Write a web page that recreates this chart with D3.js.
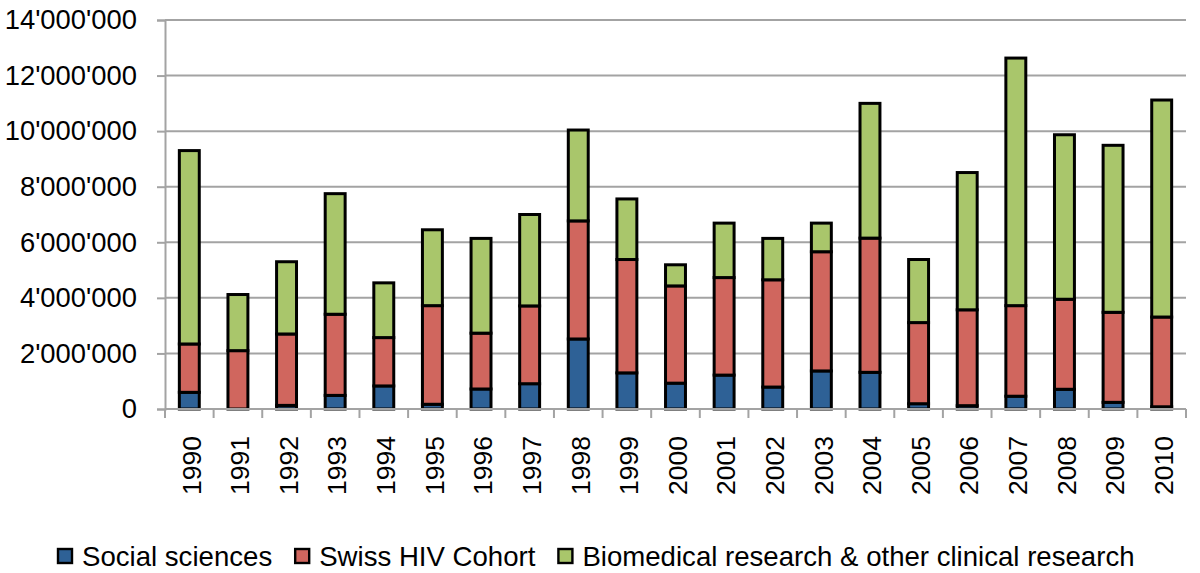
<!DOCTYPE html>
<html>
<head>
<meta charset="utf-8">
<script src="https://cdn.jsdelivr.net/npm/d3@7"></script>
<style>
  html, body { margin: 0; padding: 0; background: #fff; }
  svg { display: block; }
  text { font-family: "Liberation Sans", Arial, sans-serif; fill: #000; }
</style>
</head>
<body>
<svg id="chart" width="1200" height="573"></svg>
<script>
const years = ["1990","1991","1992","1993","1994","1995","1996","1997","1998","1999","2000","2001","2002","2003","2004","2005","2006","2007","2008","2009","2010"];
const socialSciences = [600000,0,130000,490000,830000,170000,720000,910000,2520000,1300000,930000,1220000,790000,1370000,1320000,190000,120000,460000,710000,240000,80000];
const swissHIVCohort = [1740000,2100000,2570000,2920000,1740000,3550000,2010000,2800000,4250000,4080000,3500000,3510000,3860000,4290000,4830000,2920000,3450000,3260000,3240000,3240000,3230000];
const biomedical = [6960000,2020000,2600000,4340000,1970000,2730000,3410000,3290000,3270000,2180000,760000,1960000,1490000,1030000,4850000,2270000,4940000,8910000,5920000,6010000,7810000];
const seriesNames = ["Social sciences","Swiss HIV Cohort","Biomedical research & other clinical research"];
const seriesColors = ["#2e6196","#d0665e","#a9c66b"];
const yTicks = [0,2000000,4000000,6000000,8000000,10000000,12000000,14000000];

(function () {
const rows = years.map((yr, i) => ({year: yr, s0: socialSciences[i], s1: swissHIVCohort[i], s2: biomedical[i]}));
const stacked = d3.stack().keys(["s0","s1","s2"])(rows);

const svg = d3.select("#chart");
const mLeft = 165, mRight = 1186, mTop = 20, mBottom = 409;

const x = d3.scaleBand().domain(years).range([mLeft, mRight]).paddingInner(0.59).paddingOuter(0.295);
const y = d3.scaleLinear().domain([0, 14000000]).range([mBottom, mTop]);
const step = x.step();

// gridlines
svg.append("g").selectAll("line").data(yTicks.filter(d => d > 0)).join("line")
  .attr("x1", mLeft).attr("x2", mRight)
  .attr("y1", d => y(d)).attr("y2", d => y(d))
  .attr("stroke", "#a3a3a3").attr("stroke-width", 2);

// y axis
const fmt = d => d3.format(",")(d).replace(/,/g, "'");
const yAxis = d3.axisLeft(y).tickValues(yTicks).tickFormat(fmt).tickSize(8).tickPadding(20);
const yg = svg.append("g").attr("transform", `translate(${mLeft},0)`).call(yAxis);
yg.select(".domain").attr("stroke", "#a3a3a3").attr("stroke-width", 2);
yg.selectAll(".tick line").attr("stroke", "#a3a3a3").attr("stroke-width", 2);
yg.selectAll(".tick text").attr("font-size", 27.4).attr("font-family", "Liberation Sans, Arial, sans-serif").attr("fill", "#000");

// bars
svg.append("g").selectAll("g").data(stacked).join("g")
  .attr("fill", (d, i) => seriesColors[i])
  .selectAll("rect").data(d => d.map(v => ({v, year: v.data.year}))).join("rect")
  .attr("x", d => x(d.year))
  .attr("width", x.bandwidth())
  .attr("y", d => y(d.v[1]))
  .attr("height", d => Math.max(0, y(d.v[0]) - y(d.v[1])))
  .attr("stroke", "#000").attr("stroke-width", 3)
  .attr("display", d => (d.v[1] - d.v[0]) > 0 ? null : "none");

// x axis line and ticks between categories
const xg = svg.append("g");
xg.append("line").attr("x1", mLeft).attr("x2", mRight).attr("y1", mBottom).attr("y2", mBottom)
  .attr("stroke", "#a3a3a3").attr("stroke-width", 2);
xg.selectAll("line.tk").data(d3.range(years.length + 1)).join("line").attr("class", "tk")
  .attr("x1", i => mLeft + i * step).attr("x2", i => mLeft + i * step)
  .attr("y1", mBottom).attr("y2", mBottom + 9)
  .attr("stroke", "#a3a3a3").attr("stroke-width", 2);
xg.selectAll("text").data(years).join("text")
  .attr("transform", d => `translate(${x(d) + x.bandwidth() / 2 + 2},436) rotate(-90)`)
  .attr("text-anchor", "end").attr("dy", "0.35em")
  .attr("font-size", 26.5).text(d => d);

// legend
const lg = svg.append("g");
let cx = 58;
seriesNames.forEach((name, i) => {
  lg.append("rect").attr("x", cx).attr("y", 549).attr("width", 14).attr("height", 14)
    .attr("fill", seriesColors[i]).attr("stroke", "#000").attr("stroke-width", 2.4);
  const t = lg.append("text").attr("x", cx + 24).attr("y", 566).attr("font-size", 27.6).text(name);
  cx = cx + 24 + t.node().getComputedTextLength() + 23;
});
})();
</script>
</body>
</html>
